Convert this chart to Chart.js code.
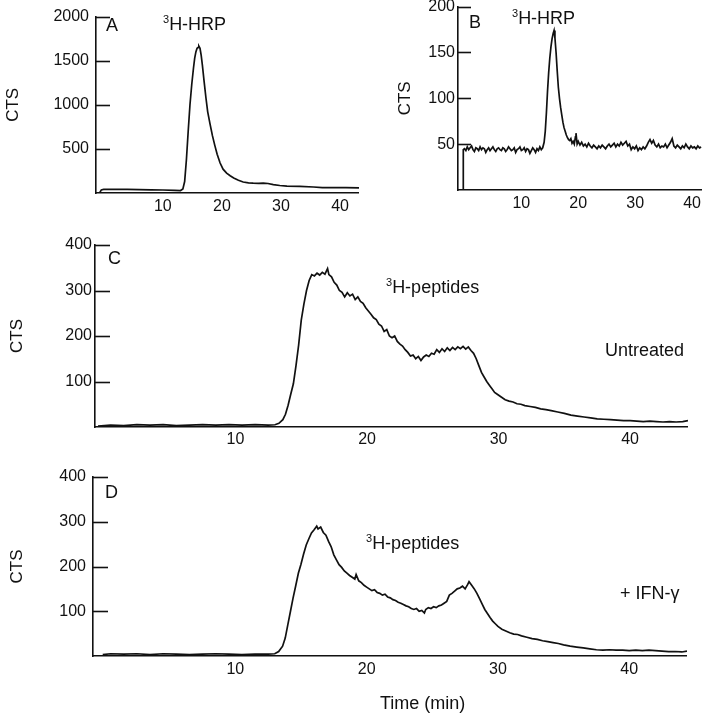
<!DOCTYPE html>
<html lang="en">
<head>
  <meta charset="UTF-8" />
  <title>HRP / peptide elution profiles</title>
  <script src="https://cdn.jsdelivr.net/npm/chart.js"></script>
  <style>
    body { margin: 0; background: #fff; }
    #fig { position: relative; width: 705px; height: 719px; overflow: hidden; font-family: 'Liberation Sans', Arial, sans-serif; color: #111; }
    canvas { position: absolute; }
    .lbl { position: absolute; font-size: 18px; line-height: 20px; white-space: nowrap; }
    .lbl sup { font-size: 11px; vertical-align: 7px; line-height: 0; }
  </style>
</head>
<body>
<div id="fig">
  <canvas id="chartA" width="359" height="225" style="left:0;top:0"></canvas>
  <canvas id="chartB" width="335" height="231" style="left:370px;top:-6px"></canvas>
  <canvas id="chartC" width="688" height="235" style="left:0;top:225px"></canvas>
  <canvas id="chartD" width="687" height="259" style="left:0;top:460px"></canvas>

  <div class="lbl" style="left:106px;top:15px">A</div>
  <div class="lbl" style="left:163px;top:14px"><sup>3</sup>H-HRP</div>
  <div class="lbl" style="left:469px;top:12px">B</div>
  <div class="lbl" style="left:512px;top:8px"><sup>3</sup>H-HRP</div>
  <div class="lbl" style="left:108px;top:248px">C</div>
  <div class="lbl" style="left:386px;top:277px"><sup>3</sup>H-peptides</div>
  <div class="lbl" style="left:605px;top:340px">Untreated</div>
  <div class="lbl" style="left:105px;top:482px">D</div>
  <div class="lbl" style="left:366px;top:533px"><sup>3</sup>H-peptides</div>
  <div class="lbl" style="left:620px;top:583px">+ IFN-γ</div>
  <div class="lbl" style="left:380px;top:693px">Time (min)</div>
</div>

<script>
  // tick values
  const xTicks = [10, 20, 30, 40];
  const yTicksA = [500, 1000, 1500, 2000];
  const yTicksB = [50, 100, 150, 200];
  const yTicksCD = [100, 200, 300, 400];

  // traces: [time (min), counts]
  const traceA = [
    [-0.7, 0], [-0.4, 35], [0, 40], [1, 42], [2, 42], [4, 40], [6, 38], [8, 36], [10, 34], [12, 30], [13, 28],
    [13.4, 45], [13.7, 130], [14.0, 380], [14.3, 700], [14.6, 1000], [14.9, 1230], [15.2, 1420], [15.4, 1530],
    [15.6, 1600], [15.8, 1640], [16.0, 1650], [16.1, 1665], [16.3, 1640], [16.5, 1560], [16.7, 1450], [17.0, 1260],
    [17.3, 1080], [17.6, 920], [18.0, 780], [18.4, 650], [18.8, 540], [19.2, 440], [19.7, 340], [20.2, 270],
    [20.8, 225], [21.4, 195], [22.0, 170], [22.8, 145], [23.6, 125], [24.5, 115], [25.3, 112], [26.2, 110],
    [27.0, 112], [27.8, 108], [28.7, 95], [29.8, 85], [31.0, 78], [33.2, 74], [35.5, 68], [37.0, 62],
    [38.9, 62], [41.0, 60], [43.2, 58]
  ];

  const traceB = [
    [-1.1, 0], [-0.25, 0], [-0.2, 44],
    [0, 45], [0.25, 43], [0.5, 47], [0.75, 44], [1, 46], [1.25, 48], [1.5, 44], [1.75, 42], [2, 46], [2.25, 45],
    [2.5, 43], [2.75, 47], [3, 44], [3.25, 46], [3.5, 45], [3.75, 41], [4, 44], [4.25, 46], [4.5, 43], [4.75, 45],
    [5, 47], [5.25, 44], [5.5, 42], [5.75, 45], [6, 46], [6.25, 44], [6.5, 43], [6.75, 46], [7, 45], [7.25, 42],
    [7.5, 44], [7.75, 47], [8, 45], [8.25, 43], [8.5, 44], [8.75, 46], [9, 41], [9.25, 44], [9.5, 45], [9.75, 47],
    [10, 43], [10.25, 44], [10.5, 46], [10.75, 42], [11, 45], [11.25, 44], [11.5, 40], [11.75, 43], [12, 46],
    [12.25, 44], [12.5, 41], [12.75, 45], [13, 43], [13.25, 47], [13.5, 44],
    [13.75, 46], [14, 52], [14.2, 64], [14.4, 84], [14.6, 108], [14.8, 128], [15.0, 144], [15.2, 156], [15.4, 165],
    [15.6, 171], [15.75, 174], [15.9, 166], [16.1, 150], [16.3, 130], [16.5, 112], [16.7, 100], [16.9, 90],
    [17.1, 82], [17.3, 74], [17.5, 68], [17.7, 64], [17.9, 60], [18.1, 57], [18.3, 55], [18.5, 54], [18.7, 56],
    [18.9, 51], [19.1, 53], [19.3, 50], [19.5, 58], [19.6, 62], [19.8, 50], [20.0, 53],
    [20.3, 49], [20.6, 52], [20.9, 48], [21.2, 50], [21.5, 47], [21.8, 51], [22.1, 48], [22.4, 46], [22.7, 49],
    [23.0, 47], [23.3, 45], [23.6, 48], [23.9, 46], [24.2, 49], [24.5, 47], [24.8, 45], [25.1, 48], [25.4, 50],
    [25.7, 47], [26.0, 49], [26.3, 51], [26.6, 47], [26.9, 50], [27.2, 48], [27.5, 52], [27.8, 49], [28.1, 51],
    [28.4, 53], [28.7, 48], [29.0, 50], [29.3, 44], [29.6, 47], [29.9, 45], [30.2, 48], [30.5, 43], [30.8, 46],
    [31.1, 44], [31.4, 47], [31.7, 45], [32.0, 48], [32.3, 52], [32.6, 55], [32.9, 51], [33.2, 54], [33.5, 49],
    [33.8, 47], [34.1, 50], [34.4, 46], [34.7, 48], [35.0, 47], [35.3, 50], [35.6, 46], [35.9, 49], [36.2, 52],
    [36.5, 56], [36.8, 48], [37.1, 46], [37.4, 49], [37.7, 47], [38.0, 45], [38.3, 48], [38.6, 46], [38.9, 50],
    [39.2, 47], [39.5, 45], [39.8, 48], [40.1, 46], [40.4, 47], [40.7, 45], [41.0, 48], [41.3, 46], [41.6, 47]
  ];

  const traceC = [
    [-0.45, 2], [0.5, 4], [1.5, 3], [2.5, 5], [3.5, 4], [4.5, 5], [5.5, 3], [6.5, 4], [7.5, 5], [8.5, 4], [9.5, 5],
    [10.5, 4], [11.5, 5], [12.5, 4], [13.0, 5], [13.3, 8], [13.6, 16], [13.8, 28], [14.0, 48], [14.2, 72],
    [14.4, 95], [14.6, 135], [14.8, 180], [15.0, 235], [15.2, 270], [15.4, 300], [15.6, 322], [15.8, 335],
    [16.0, 332], [16.2, 338], [16.4, 334], [16.6, 340], [16.8, 336], [17.0, 348], [17.1, 335], [17.3, 330],
    [17.5, 318], [17.7, 312], [17.9, 300], [18.1, 296], [18.3, 286], [18.5, 295], [18.7, 288], [18.9, 292],
    [19.1, 280], [19.3, 286], [19.5, 276], [19.7, 272], [19.9, 262], [20.1, 255], [20.3, 248], [20.5, 240],
    [20.7, 236], [20.9, 226], [21.1, 222], [21.3, 210], [21.5, 214], [21.7, 200], [21.9, 196], [22.1, 200],
    [22.3, 188], [22.5, 182], [22.7, 178], [22.9, 170], [23.1, 164], [23.3, 156], [23.5, 158], [23.7, 150],
    [23.9, 155], [24.1, 146], [24.3, 154], [24.5, 158], [24.7, 155], [24.9, 162], [25.1, 160], [25.3, 170],
    [25.5, 164], [25.7, 172], [25.9, 166], [26.1, 174], [26.3, 168], [26.5, 175], [26.7, 170], [26.9, 176],
    [27.1, 172], [27.3, 177], [27.5, 171], [27.7, 176], [27.9, 168], [28.1, 162], [28.3, 150], [28.5, 135],
    [28.7, 120], [28.9, 110], [29.1, 100], [29.3, 92], [29.5, 84], [29.7, 76], [29.9, 72], [30.2, 66], [30.5, 60],
    [30.8, 57], [31.1, 55], [31.4, 51], [31.7, 50], [32.0, 47], [32.4, 45], [32.8, 43], [33.2, 40], [33.6, 38],
    [34.0, 36], [34.5, 33], [35.0, 30], [35.5, 26], [36.0, 24], [36.5, 22], [37.0, 20], [37.5, 18], [38.0, 17],
    [38.5, 16], [39.0, 15], [39.5, 14], [40.0, 14], [40.5, 13], [41.0, 12], [41.5, 13], [42.0, 12], [42.5, 11],
    [43.0, 12], [43.5, 11], [44.0, 12], [44.4, 14]
  ];

  const traceD = [
    [-0.1, 3], [0.5, 5], [1.5, 4], [2.5, 5], [3.5, 3], [4.5, 5], [5.5, 4], [6.5, 3], [7.5, 4], [8.5, 5], [9.5, 4],
    [10.5, 3], [11.5, 4], [12.5, 4], [13.0, 5], [13.3, 10], [13.6, 22], [13.8, 40], [14.0, 70], [14.2, 100],
    [14.4, 130], [14.6, 157], [14.8, 185], [15.0, 205], [15.2, 228], [15.4, 248], [15.6, 262], [15.8, 275],
    [16.0, 282], [16.2, 290], [16.3, 284], [16.5, 288], [16.7, 276], [16.9, 270], [17.1, 256], [17.3, 244],
    [17.5, 226], [17.7, 215], [17.9, 204], [18.1, 198], [18.3, 190], [18.5, 185], [18.7, 180], [18.9, 176],
    [19.1, 172], [19.2, 182], [19.4, 168], [19.6, 164], [19.8, 158], [20.0, 154], [20.2, 150], [20.4, 146],
    [20.6, 148], [20.8, 142], [21.0, 140], [21.2, 136], [21.4, 138], [21.6, 132], [21.8, 130], [22.0, 126],
    [22.2, 124], [22.4, 120], [22.6, 118], [22.8, 115], [23.0, 112], [23.2, 110], [23.4, 106], [23.6, 104],
    [23.8, 106], [24.0, 100], [24.2, 102], [24.4, 96], [24.5, 104], [24.7, 108], [24.9, 106], [25.1, 110],
    [25.3, 108], [25.5, 112], [25.7, 114], [25.9, 118], [26.1, 122], [26.3, 136], [26.5, 140], [26.7, 145],
    [26.9, 150], [27.1, 152], [27.3, 156], [27.5, 150], [27.7, 160], [27.8, 166], [28.0, 158], [28.2, 150],
    [28.4, 140], [28.6, 128], [28.8, 116], [29.0, 104], [29.2, 95], [29.4, 86], [29.6, 78], [29.8, 72],
    [30.0, 66], [30.3, 60], [30.6, 56], [30.9, 52], [31.2, 49], [31.5, 48], [31.8, 45], [32.2, 42], [32.6, 39],
    [33.0, 37], [33.4, 34], [33.8, 32], [34.2, 30], [34.6, 28], [35.0, 25], [35.5, 22], [36.0, 20], [36.5, 18],
    [37.0, 16], [37.5, 14], [38.0, 13], [38.5, 14], [39.0, 13], [39.5, 13], [40.0, 12], [40.5, 13], [41.0, 12],
    [41.5, 13], [42.0, 12], [42.5, 11], [43.0, 10], [43.5, 10], [44.0, 9], [44.4, 11]
  ];

  const INK = '#111';
  const FONT = "'Liberation Sans', Arial, sans-serif";

  // short tick marks pointing into the plot from the y axis
  const inTicks = {
    id: 'inTicks',
    afterDraw(chart, args, opts) {
      const { ctx, chartArea, scales } = chart;
      const y = scales.y;
      ctx.save();
      ctx.strokeStyle = INK;
      ctx.lineWidth = 1.6;
      y.ticks.forEach(t => {
        const py = Math.round(y.getPixelForValue(t.value)) + 0.5;
        ctx.beginPath();
        ctx.moveTo(chartArea.left, py);
        ctx.lineTo(chartArea.left + opts.len, py);
        ctx.stroke();
      });
      ctx.restore();
    }
  };

  function makePanel(id, trace, p) {
    return new Chart(document.getElementById(id), {
      type: 'line',
      data: {
        datasets: [{
          data: trace.map(d => ({ x: d[0], y: d[1] })),
          borderColor: INK,
          borderWidth: 1.7,
          pointRadius: 0,
          tension: 0,
          fill: false
        }]
      },
      plugins: [inTicks],
      options: {
        responsive: false,
        animation: false,
        devicePixelRatio: 1,
        layout: { padding: { top: p.padTop, right: 0, bottom: 0, left: 0 } },
        plugins: {
          legend: { display: false },
          tooltip: { enabled: false },
          inTicks: { len: p.tickLen }
        },
        scales: {
          x: {
            type: 'linear',
            min: p.xMin,
            max: p.xMax,
            afterBuildTicks: s => { s.ticks = xTicks.map(v => ({ value: v })); },
            afterFit: s => { s.height = p.xH; },
            grid: { display: false, drawTicks: false },
            border: { display: true, color: INK, width: 1.6 },
            ticks: { color: INK, padding: p.xPad, maxRotation: 0, callback: v => String(v), font: { family: FONT, size: 16 } }
          },
          y: {
            type: 'linear',
            min: 0,
            max: p.yMax,
            afterBuildTicks: s => { s.ticks = p.yTicks.map(v => ({ value: v })); },
            afterFit: s => { s.width = p.yW; },
            grid: { display: false, drawTicks: false },
            border: { display: true, color: INK, width: 1.6 },
            ticks: { color: INK, padding: p.yPad, callback: v => String(v), font: { family: FONT, size: 16 } },
            title: {
              display: true,
              text: 'CTS',
              color: INK,
              font: { family: FONT, size: 17 },
              padding: { top: p.titlePad, bottom: 0 }
            }
          }
        }
      }
    });
  }

  makePanel('chartA', traceA, { padTop: 12, xMin: -1.3, xMax: 43.2, xH: 32, xPad: 4, yMax: 2000, yTicks: yTicksA, yW: 96, yPad: 7, titlePad: 3, tickLen: 14 });
  makePanel('chartB', traceB, { padTop: 11, xMin: -1.13, xMax: 41.7, xH: 35, xPad: 4, yMax: 200, yTicks: yTicksB, yW: 88, yPad: 3, titlePad: 25, tickLen: 13 });
  makePanel('chartC', traceC, { padTop: 20, xMin: -0.68, xMax: 44.4, xH: 33, xPad: 3, yMax: 400, yTicks: yTicksCD, yW: 95, yPad: 3, titlePad: 7, tickLen: 15 });
  makePanel('chartD', traceD, { padTop: 17, xMin: -0.84, xMax: 44.4, xH: 63, xPad: 4, yMax: 400, yTicks: yTicksCD, yW: 93, yPad: 7, titlePad: 7, tickLen: 15 });
</script>
</body>
</html>
